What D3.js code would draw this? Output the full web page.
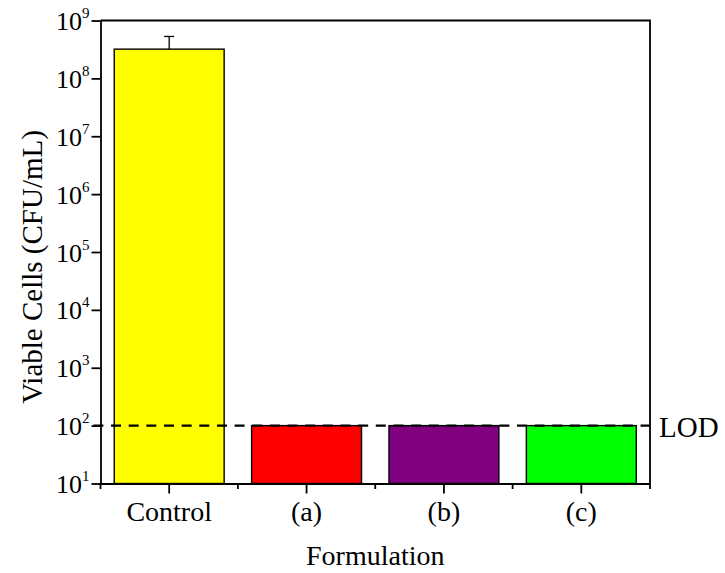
<!DOCTYPE html>
<html>
<head>
<meta charset="utf-8">
<script src="https://cdn.jsdelivr.net/npm/d3@7/dist/d3.min.js"></script>
<style>
  html, body { margin: 0; padding: 0; background: #fff; }
  svg text { font-family: "Liberation Serif", "Times New Roman", Times, serif !important; fill: #000; }
</style>
</head>
<body>
<svg id="chart" width="725" height="573" font-family="Liberation Serif"></svg>
<script>
// Viable cell counts per formulation (CFU/mL)
const categories = ["Control", "(a)", "(b)", "(c)"];
const viableCells = [3.2e8, 100, 100, 100];
const errorUpper = [2.1e8, 0, 0, 0];
const barColors = ["#FFFF00", "#FF0000", "#800080", "#00FF00"];
const lodValue = 100;
const yTickExponents = [1, 2, 3, 4, 5, 6, 7, 8, 9];

const FONT = "Liberation Serif";
const svg = d3.select("#chart");
const plot = { left: 100.5, right: 650, top: 20.5, bottom: 483.5 };

const x = d3.scaleBand()
  .domain(categories)
  .range([plot.left, plot.right])
  .paddingInner(0).paddingOuter(0);

const y = d3.scaleLog()
  .domain([1e1, 1e9])
  .range([plot.bottom, plot.top]);

const barW = x.bandwidth() * 0.8;
const rows = categories.map((c, i) => ({ c, v: viableCells[i], e: errorUpper[i], color: barColors[i] }));

// Bars
svg.append("g").selectAll("rect")
  .data(rows)
  .join("rect")
  .attr("x", d => x(d.c) + (x.bandwidth() - barW) / 2)
  .attr("y", d => y(d.v))
  .attr("width", barW)
  .attr("height", d => y(1e1) - y(d.v))
  .attr("fill", d => d.color)
  .attr("stroke", "#000")
  .attr("stroke-width", 1.4);

// Upper error bars
const eg = svg.append("g").attr("stroke", "#000").attr("stroke-width", 1.3);
rows.filter(d => d.e > 0).forEach(d => {
  const cx = x(d.c) + x.bandwidth() / 2;
  eg.append("line").attr("x1", cx).attr("x2", cx)
    .attr("y1", y(d.v)).attr("y2", y(d.v + d.e));
  eg.append("line").attr("x1", cx - 5).attr("x2", cx + 5)
    .attr("y1", y(d.v + d.e)).attr("y2", y(d.v + d.e));
});

// Limit of detection
svg.append("line")
  .attr("x1", 93.4).attr("x2", plot.right)
  .attr("y1", y(lodValue)).attr("y2", y(lodValue))
  .attr("stroke", "#000")
  .attr("stroke-width", 2.4)
  .attr("stroke-dasharray", "10,7.65");

svg.append("text")
  .attr("x", 659).attr("y", y(lodValue) + 11)
  .attr("font-family", FONT)
  .attr("font-size", 29)
  .text("LOD");

// Frame (top and right)
svg.append("path")
  .attr("d", `M${plot.left},${plot.top}H${plot.right}V${plot.bottom}`)
  .attr("fill", "none").attr("stroke", "#000").attr("stroke-width", 1.8);

// Y axis
const yAxis = svg.append("g")
  .attr("transform", `translate(${plot.left},0)`)
  .call(d3.axisLeft(y)
    .tickValues(yTickExponents.map(e => Math.pow(10, e)))
    .tickSize(9).tickSizeOuter(0).tickPadding(2)
    .tickFormat(() => ""));
yAxis.attr("font-family", FONT);
yAxis.select(".domain").attr("stroke-width", 1.8);
yAxis.selectAll(".tick line").attr("stroke-width", 1.8);
yAxis.selectAll(".tick text").remove();
yAxis.selectAll(".tick").each(function(v) {
  const t = d3.select(this).append("text")
    .attr("x", -11).attr("y", 9)
    .attr("text-anchor", "end")
    .attr("font-family", FONT)
    .attr("font-size", 26);
  t.append("tspan").text("10");
  t.append("tspan").attr("dy", -12).attr("font-size", 15)
    .text(Math.round(Math.log10(v)));
});

// X axis with major ticks at categories and minor ticks between them
const xAxis = svg.append("g")
  .attr("transform", `translate(0,${plot.bottom})`)
  .call(d3.axisBottom(x).tickSize(10).tickSizeOuter(0).tickPadding(8));
xAxis.attr("font-family", FONT);
xAxis.select(".domain").attr("stroke-width", 1.8);
xAxis.selectAll(".tick line").attr("stroke-width", 1.8);
xAxis.selectAll(".tick text").attr("font-size", 28).attr("font-family", FONT);

const minorX = categories.map(c => x(c)).concat([plot.right]);
xAxis.selectAll(".minor").data(minorX).join("line")
  .attr("class", "minor")
  .attr("x1", d => d).attr("x2", d => d)
  .attr("y1", 0).attr("y2", 5.5)
  .attr("stroke", "#000").attr("stroke-width", 1.8);

// Axis titles
svg.append("text")
  .attr("x", (plot.left + plot.right) / 2).attr("y", 565)
  .attr("text-anchor", "middle")
  .attr("font-family", FONT)
  .attr("font-size", 28)
  .text("Formulation");

svg.append("text")
  .attr("transform", `translate(42,${(plot.top + plot.bottom) / 2 + 15}) rotate(-90)`)
  .attr("text-anchor", "middle")
  .attr("font-family", FONT)
  .attr("font-size", 29)
  .text("Viable Cells (CFU/mL)");
</script>
</body>
</html>
